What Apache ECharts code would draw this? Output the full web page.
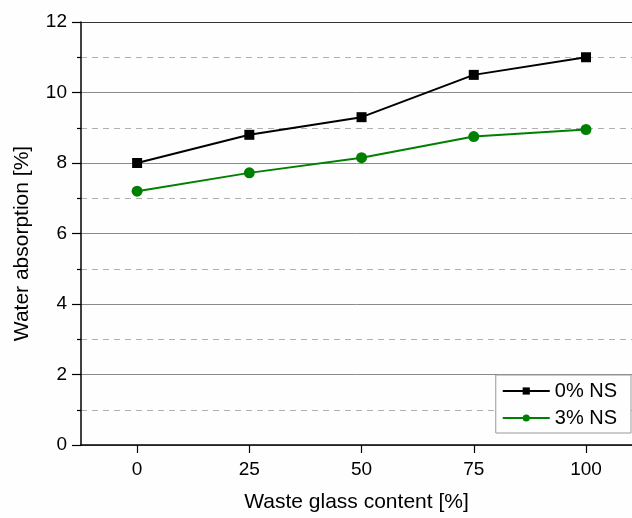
<!DOCTYPE html>
<html><head><meta charset="utf-8">
<script src="https://cdn.jsdelivr.net/npm/echarts@6/dist/echarts.min.js"></script>
<style>html,body{margin:0;padding:0;background:#fff}#c{width:632px;height:518px}</style>
</head><body><div id="c"></div>
<script>
var xValues = [0, 25, 50, 75, 100];
var ns0 = [8.0, 8.8, 9.3, 10.5, 11.0];
var ns3 = [7.2, 7.72, 8.15, 8.75, 8.95];
var seriesNames = ['0% NS', '3% NS'];
var yTicks = [0, 2, 4, 6, 8, 10, 12];

function pairs(ys) { return xValues.map(function (x, i) { return [x, ys[i]]; }); }

var chart = echarts.init(document.getElementById('c'), null, {renderer: 'canvas'});
var font = 'Liberation Sans, Arial, sans-serif';
chart.setOption({
  backgroundColor: '#fefefe',
  animation: false,
  grid: {left: 81, top: 22, right: 0, bottom: 73, containLabel: false},
  legend: {
    right: 1, top: 375, orient: 'vertical',
    data: seriesNames,
    itemWidth: 47, itemHeight: 9, itemGap: 7,
    borderColor: '#999', borderWidth: 1,
    padding: [6, 14, 5, 6],
    backgroundColor: '#fefefe',
    textStyle: {fontFamily: font, fontSize: 20, color: '#000', padding: [0, 0, 0, 0]}
  },
  xAxis: [{
    type: 'value', min: -12.5, max: 110.25,
    name: 'Waste glass content [%]', nameLocation: 'middle', nameGap: 47,
    nameTextStyle: {fontFamily: font, fontSize: 21, color: '#000'},
    axisLine: {onZero: false, lineStyle: {color: '#000', width: 1.5}},
    axisTick: {show: true, customValues: xValues, length: 8, lineStyle: {color: '#000', width: 1.2}},
    axisLabel: {show: true, customValues: xValues, fontFamily: font, fontSize: 19, color: '#000', margin: 15},
    splitLine: {show: false}
  }, {
    type: 'value', min: -12.5, max: 110.25, position: 'top',
    axisLine: {show: true, onZero: false, lineStyle: {color: '#333', width: 1.2}},
    axisTick: {show: false}, axisLabel: {show: false}, splitLine: {show: false}
  }],
  yAxis: {
    type: 'value', min: 0, max: 12, interval: 2,
    name: 'Water absorption [%]', nameLocation: 'middle', nameGap: 48,
    nameTextStyle: {fontFamily: font, fontSize: 21, color: '#000', padding: [0, 20, 0, 0]},
    axisLine: {show: true, onZero: false, lineStyle: {color: '#000', width: 1.5}},
    axisTick: {show: true, length: 9, lineStyle: {color: '#000', width: 1.2}},
    minorTick: {show: true, splitNumber: 2, length: 4, lineStyle: {color: '#000', width: 1.2}},
    axisLabel: {fontFamily: font, fontSize: 19, color: '#000', margin: 14,
      formatter: function (v) { return yTicks.indexOf(v) >= 0 ? String(v) : ''; }},
    splitLine: {show: true, lineStyle: {color: '#8a8a8a', width: 1}},
    minorSplitLine: {show: true, lineStyle: {color: '#b0b0b0', width: 1, type: [6, 5]}}
  },
  series: [{
    name: seriesNames[0], type: 'line', data: pairs(ns0),
    symbol: 'rect', symbolSize: 10,
    lineStyle: {color: '#000', width: 2},
    itemStyle: {color: '#000'}
  }, {
    name: seriesNames[1], type: 'line', data: pairs(ns3),
    symbol: 'circle', symbolSize: 11,
    lineStyle: {color: '#008000', width: 2},
    itemStyle: {color: '#008000'}
  }]
});
</script></body></html>
